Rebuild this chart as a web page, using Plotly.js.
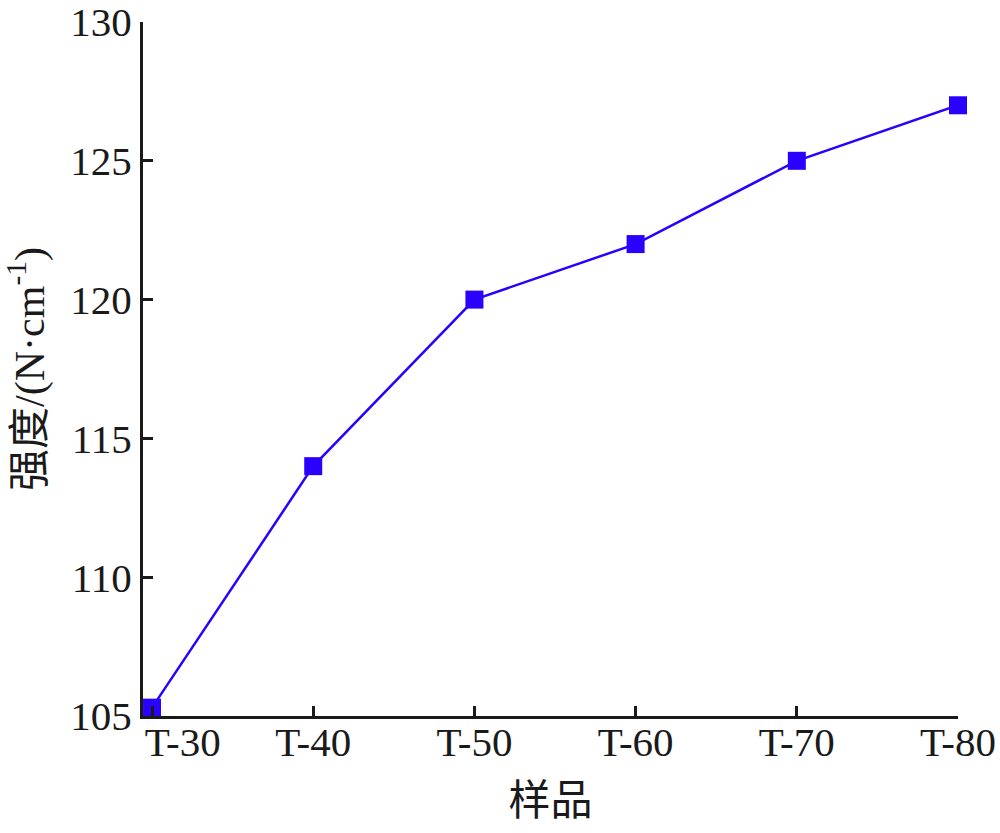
<!DOCTYPE html>
<html>
<head>
<meta charset="utf-8">
<script src="https://cdn.plot.ly/plotly-3.0.1.min.js"></script>
<style>html,body{margin:0;padding:0;background:#fff;}#chart{width:1000px;height:833px;}</style>
</head>
<body>
<div id="chart"></div>
<script>
const categories = ["T-30", "T-40", "T-50", "T-60", "T-70", "T-80"];
const strength = [105.3, 114, 120, 122, 125, 127];
const yTicks = [105, 110, 115, 120, 125, 130];

const serif = "Liberation Serif, Times New Roman, Noto Sans CJK SC, serif";
// first category label sits right of its tick in the reference (clear of the y axis)
const xTickText = categories.map((c, i) => i === 0 ? "\u2002\u2002\u2002" + c : c);

Plotly.newPlot("chart", [{
  x: categories,
  y: strength,
  type: "scatter",
  mode: "lines+markers",
  line: {color: "#2a00ff", width: 2.5},
  marker: {symbol: "square", size: 18, color: "#2a00ff"},
  cliponaxis: false
}], {
  width: 1000,
  height: 833,
  margin: {l: 143, r: 42, t: 22, b: 117},
  paper_bgcolor: "#fff",
  plot_bgcolor: "#fff",
  showlegend: false,
  font: {family: serif, color: "#1a1a1a"},
  xaxis: {
    type: "category",
    range: [-0.056, 5],
    tickvals: categories,
    ticktext: xTickText,
    showgrid: false,
    zeroline: false,
    showline: true,
    linecolor: "#1a1a1a",
    linewidth: 3,
    ticks: "inside",
    ticklen: 10,
    tickwidth: 3,
    tickcolor: "#1a1a1a",
    ticklabelstandoff: -12,
    ticklabeloverflow: "allow",
    tickfont: {family: serif, size: 41, color: "#1a1a1a"},
    title: {text: "样品", font: {family: serif, size: 42, color: "#1a1a1a"}, standoff: 22}
  },
  yaxis: {
    range: [105, 130],
    tickvals: yTicks,
    showgrid: false,
    zeroline: false,
    showline: true,
    linecolor: "#1a1a1a",
    linewidth: 3,
    ticks: "inside",
    ticklen: 10,
    tickwidth: 3,
    tickcolor: "#1a1a1a",
    ticklabeloverflow: "allow",
    tickfont: {family: serif, size: 41, color: "#1a1a1a"},
    title: {text: "强度/(N·cm<sup>-1</sup>)", font: {family: serif, size: 42, color: "#1a1a1a"}, standoff: 14}
  }
}, {displayModeBar: false, staticPlot: true});
</script>
</body>
</html>
